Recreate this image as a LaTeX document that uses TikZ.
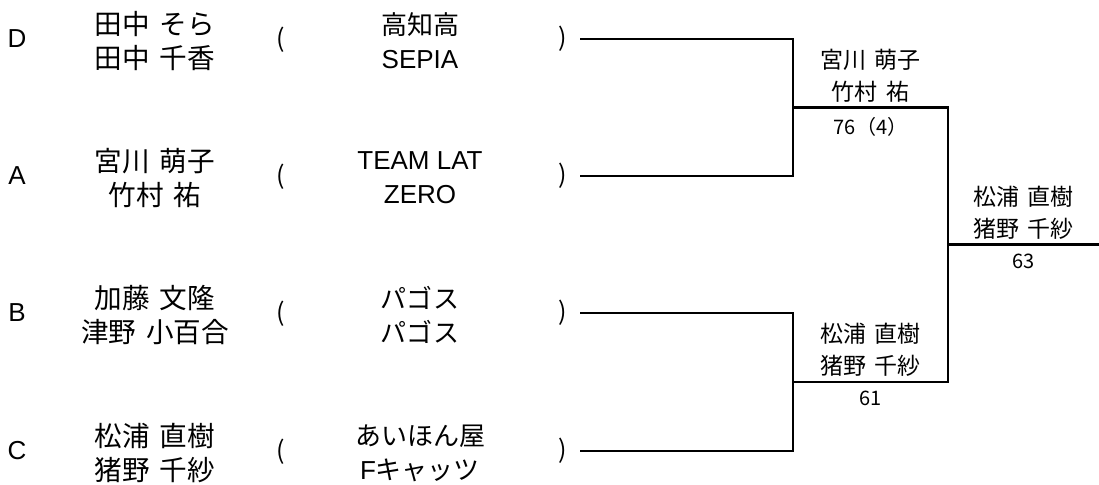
\documentclass[tikz,border=0pt]{standalone}
\usepackage{fontspec}
\setmainfont{Liberation Sans}
\newfontfamily\jp[WordSpace=1.6]{Noto Sans CJK JP}
\usetikzlibrary{positioning,calc}

\begin{document}
\begin{tikzpicture}[
  x=0.5pt, y=-0.5pt,
  seed/.style={font=\fontsize{13}{15}\selectfont, inner sep=0pt},
  pair/.style={font=\jp\fontsize{13.8}{17}\selectfont, align=center, inner sep=0pt},
  team/.style={font=\fontsize{13}{17}\selectfont, align=center, inner sep=0pt},
  paren/.style={font=\jp\fontsize{12.5}{14}\selectfont, inner sep=0pt},
  winner/.style={font=\jp\fontsize{11.5}{16}\selectfont, align=center, inner sep=1.5pt},
  score/.style={font=\jp\fontsize{10}{11}\selectfont, inner sep=1.5pt},
  bracket/.style={line width=1.4pt, draw=black}
]
\useasboundingbox (0,0) rectangle (1099,484);

% first round
\node[seed] (seedD) at (17,39) {D};
\node[pair] (pairD) at (155,41) {田中 そら\\田中 千香};
\node[paren] (openD) at (281,40) {(};
\node[team] (teamD) at (420,41) {{\jp 高知高}\\SEPIA};
\node[paren] (closeD) at (563,39) {)};
\coordinate (lnD) at (580,39);

\node[seed] (seedA) at (17,176) {A};
\node[pair] (pairA) at (155,178) {宮川 萌子\\竹村 祐};
\node[paren] (openA) at (281,177) {(};
\node[team] (teamA) at (420,178) {TEAM LAT\\ZERO};
\node[paren] (closeA) at (563,176) {)};
\coordinate (lnA) at (580,176);

\node[seed] (seedB) at (17,313) {B};
\node[pair] (pairB) at (155,315) {加藤 文隆\\津野 小百合};
\node[paren] (openB) at (281,314) {(};
\node[team] (teamB) at (420,315) {{\jp パゴス}\\{\jp パゴス}};
\node[paren] (closeB) at (563,313) {)};
\coordinate (lnB) at (580,313);

\node[seed] (seedC) at (17,451) {C};
\node[pair] (pairC) at (155,453) {松浦 直樹\\猪野 千紗};
\node[paren] (openC) at (281,452) {(};
\node[team] (teamC) at (420,453) {{\jp あいほん屋}\\F{\jp キャッツ}};
\node[paren] (closeC) at (563,451) {)};
\coordinate (lnC) at (580,451);

% bracket
\coordinate (semi1) at (793,107.5);
\coordinate (semi2) at (793,382);
\coordinate (fin) at (948,244.75);
\coordinate (champ) at (1099,244.75);

\draw[bracket] (lnD) -| (semi1);
\draw[bracket] (lnA) -| (semi1);
\draw[bracket] (lnB) -| (semi2);
\draw[bracket] (lnC) -| (semi2);
\draw[bracket] (semi1) -| (fin);
\draw[bracket] (semi2) -| (fin);
\draw[bracket] (fin) -- (champ);

% winners and scores
\node[winner, above=1pt] (win1) at ($(semi1)!0.5!(semi1 -| fin)$) {宮川 萌子\\竹村 祐};
\node[score, below=3pt] (score1) at ($(semi1)!0.5!(semi1 -| fin)$) {76（4）};
\node[winner, above=1pt] (win2) at ($(semi2)!0.5!(semi2 -| fin)$) {松浦 直樹\\猪野 千紗};
\node[score, below=3pt] (score2) at ($(semi2)!0.5!(semi2 -| fin)$) {61};
\node[winner, above=1pt] (win3) at ($(fin)!0.5!(champ)$) {松浦 直樹\\猪野 千紗};
\node[score, below=3pt] (score3) at ($(fin)!0.5!(champ)$) {63};

\end{tikzpicture}
\end{document}
